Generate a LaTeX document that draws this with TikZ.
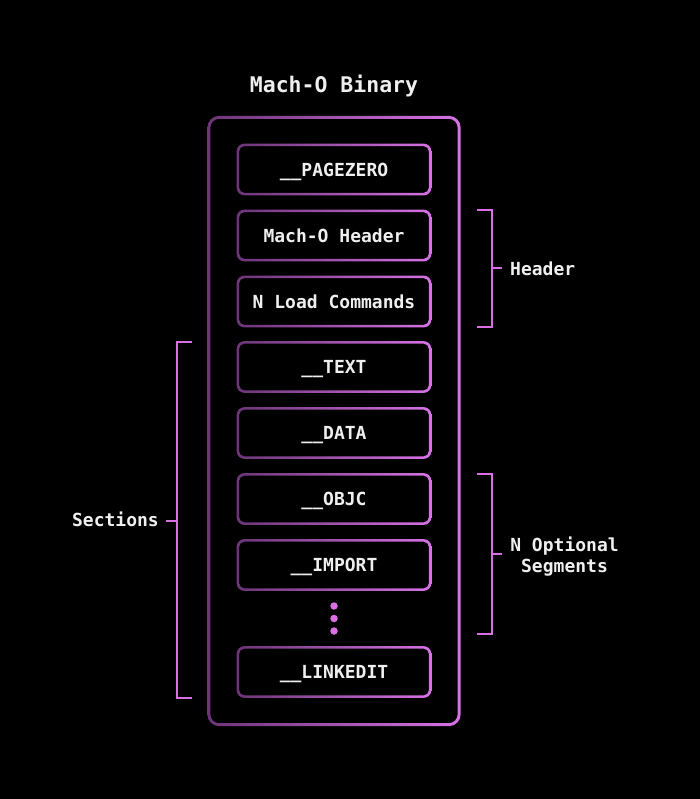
\documentclass[tikz,border=0pt]{standalone}
\usepackage{fontspec}
\usetikzlibrary{calc}
\newfontfamily\monofam{DejaVu Sans Mono}
\definecolor{gleft}{HTML}{6C3577}
\definecolor{gright}{HTML}{D872E6}
\definecolor{brk}{HTML}{D96FE2}
\definecolor{txt}{HTML}{EFEFEF}
\tikzset{
  seg/.style={minimum width=192pt, minimum height=49pt, inner sep=0pt, text=txt,
    text height=13.1pt, text depth=0pt,
    font=\monofam\bfseries\fontsize{18}{21}\selectfont},
  lbl/.style={inner sep=0pt, text=txt, text height=13.1pt, text depth=0pt,
    font=\monofam\bfseries\fontsize{18}{21}\selectfont},
  lbltwo/.style={inner sep=0pt, text=txt, align=center,
    font=\monofam\bfseries\fontsize{18}{21}\selectfont},
  brkline/.style={draw=brk, line width=2pt},
  dotmark/.style={circle, fill=brk, inner sep=0pt, minimum size=7.5pt},
}
\begin{document}
\begin{tikzpicture}[x=1pt,y=-1pt]
\fill[black] (0,0) rectangle (700,799);
\useasboundingbox (0,0) rectangle (700,799);

% title
\node[lbl, text height=15.7pt, font=\monofam\bfseries\fontsize{21.5}{25}\selectfont] (title) at (334,84.3) {Mach-O Binary};

% outer container
\node[minimum width=250pt, minimum height=607pt, inner sep=0pt] (bin) at (334,421) {};
\shade[even odd rule, left color=gleft, right color=gright, rounded corners=12pt]
  ($(bin.south west)+(-1.5,1.5)$) rectangle ($(bin.north east)+(1.5,-1.5)$)
  [rounded corners=9pt]
  ($(bin.south west)+(1.5,-1.5)$) rectangle ($(bin.north east)+(-1.5,1.5)$);

% segments
\node[seg] (pz) at (334,169.5) {\_\_PAGEZERO};
\node[seg] (mh) at (334,235.5) {Mach-O Header};
\node[seg] (lc) at (334,301.5) {N Load Commands};
\node[seg] (tx) at (334,367) {\_\_TEXT};
\node[seg] (da) at (334,433) {\_\_DATA};
\node[seg] (ob) at (334,499) {\_\_OBJC};
\node[seg] (im) at (334,565) {\_\_IMPORT};
\node[seg] (le) at (334,672) {\_\_LINKEDIT};

\foreach \n in {pz,mh,lc,tx,da,ob,im,le}{
  \shade[even odd rule, left color=gleft, right color=gright, rounded corners=8pt]
    ($(\n.south west)+(-1.25,1.25)$) rectangle ($(\n.north east)+(1.25,-1.25)$)
    [rounded corners=5.5pt]
    ($(\n.south west)+(1.25,-1.25)$) rectangle ($(\n.north east)+(-1.25,1.25)$);
}

% dots
\node[dotmark] (d1) at (334,606) {};
\node[dotmark] (d2) at (334,618.5) {};
\node[dotmark] (d3) at (334,631) {};

% Header bracket
\node[lbl, anchor=west] (hdr) at (510,268.5) {Header};
\coordinate (ht) at (492,268);
\draw[brkline] (477,210) -- (492,210) -- (492,327) -- (477,327);
\draw[brkline] (ht) -- (502,268);

% N Optional Segments bracket
\node[lbltwo] (opt) at (564.5,556.5) {N Optional\\Segments};
\coordinate (ot) at (492,554);
\draw[brkline] (477,474) -- (492,474) -- (492,634) -- (477,634);
\draw[brkline] (ot) -- (502,554);

% Sections bracket
\node[lbl, anchor=east] (sec) at (159,520) {Sections};
\coordinate (st) at (177,521);
\draw[brkline] (192,342) -- (177,342) -- (177,698) -- (192,698);
\draw[brkline] (st) -- (166,521);
\end{tikzpicture}
\end{document}
